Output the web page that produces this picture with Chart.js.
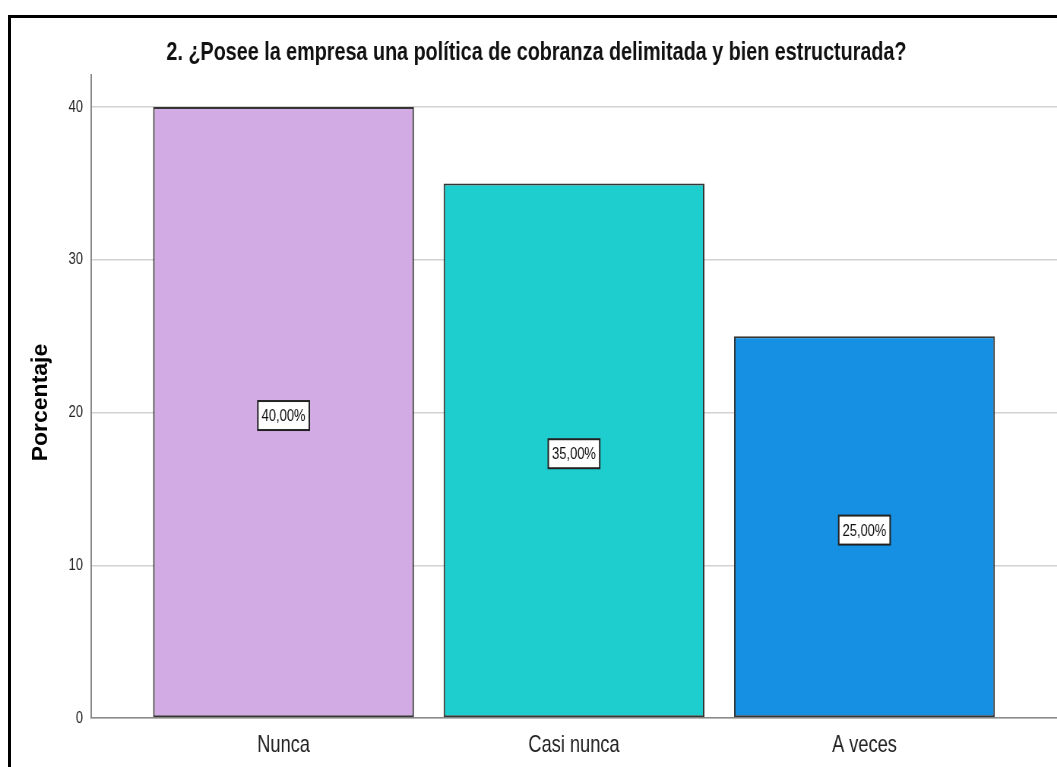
<!DOCTYPE html>
<html lang="es">
<head>
<meta charset="utf-8">
<title>Política de cobranza</title>
<script src="https://cdn.jsdelivr.net/npm/chart.js@4.4.1/dist/chart.umd.min.js"></script>
<style>
  html, body { margin: 0; padding: 0; background: #ffffff; }
  #wrap { position: relative; width: 1057px; height: 767px; overflow: hidden; background: #fff; }
  /* The chart is laid out on a wider canvas and squeezed horizontally,
     which gives the condensed look of the original lettering. */
  #stage {
    position: absolute; left: 0; top: 0; width: 1391px; height: 767px;
    transform-origin: 0 0;
  }
  #frame {
    position: absolute; left: 8px; top: 15px; width: 1100px; height: 800px;
    border-left: 3px solid #000; border-top: 3px solid #000; pointer-events: none;
  }
</style>
</head>
<body>
<div id="wrap">
  <div id="stage"><canvas id="chart" width="1391" height="767"></canvas></div>
  <div id="frame"></div>
</div>
<script>
// Survey answers for question 2 (percent of respondents)
const categories = ['Nunca', 'Casi nunca', 'A veces'];
const percentages = [40, 35, 25];
const barColors = ['#D2AAE4', '#1ECDCD', '#1590E2'];
const yTickValues = [0, 10, 20, 30, 40];
const chartTitle = '2. ¿Posee la empresa una política de cobranza delimitada y bien estructurada?';
const yAxisTitle = 'Porcentaje';

const FONT = "'Liberation Sans', Arial, sans-serif";
const SQUEEZE = 1057 / 1391;
document.getElementById('stage').style.transform = 'scaleX(' + SQUEEZE + ')';

const fmtPct = v => v.toFixed(2).replace('.', ',') + '%';

// Boxed percentage label in the middle of each bar
const valueBoxes = {
  id: 'valueBoxes',
  afterDatasetsDraw(chart) {
    const ctx = chart.ctx;
    const yScale = chart.scales.y;
    const meta = chart.getDatasetMeta(0);
    ctx.save();
    ctx.font = '17px ' + FONT;
    ctx.textAlign = 'center';
    ctx.textBaseline = 'middle';
    meta.data.forEach((bar, i) => {
      const v = percentages[i];
      const text = fmtPct(v);
      const cx = bar.x;
      const cy = yScale.getPixelForValue(v / 2) + 3;
      const w = ctx.measureText(text).width + 10;
      const h = 29;
      ctx.fillStyle = '#ffffff';
      ctx.fillRect(cx - w / 2, cy - h / 2, w, h);
      ctx.lineWidth = 2;
      ctx.strokeStyle = '#222222';
      ctx.strokeRect(cx - w / 2, cy - h / 2, w, h);
      ctx.fillStyle = '#111111';
      ctx.fillText(text, cx, cy + 1);
    });
    ctx.restore();
  }
};

// Vertical axis title, drawn at normal width (counteracting the squeeze)
const yTitle = {
  id: 'yTitle',
  afterDraw(chart) {
    const ctx = chart.ctx;
    const area = chart.chartArea;
    ctx.save();
    ctx.translate(41 / SQUEEZE, (area.top + area.bottom) / 2 + 6);
    ctx.scale(1 / SQUEEZE, 1);
    ctx.rotate(-Math.PI / 2);
    ctx.font = 'bold 23px ' + FONT;
    ctx.fillStyle = '#000000';
    ctx.textAlign = 'center';
    ctx.textBaseline = 'middle';
    ctx.fillText(yAxisTitle, 0, 0);
    ctx.restore();
  }
};

new Chart(document.getElementById('chart'), {
  type: 'bar',
  data: {
    datasets: [{
      data: categories.map((c, i) => ({ x: i, y: percentages[i] })),
      backgroundColor: barColors,
      borderColor: '#353535',
      borderWidth: 2,
      borderSkipped: false,
      categoryPercentage: 1.0,
      barPercentage: 0.898
    }]
  },
  options: {
    responsive: false,
    animation: false,
    devicePixelRatio: 1,
    layout: { padding: { left: 21, right: 0, top: 0, bottom: 0 } },
    plugins: {
      legend: { display: false },
      tooltip: { enabled: false },
      title: {
        display: true,
        text: chartTitle,
        color: '#111111',
        font: { family: FONT, size: 26, weight: 'bold', lineHeight: 1.2 },
        padding: { top: 37.4, bottom: 6.4 }
      }
    },
    scales: {
      x: {
        type: 'linear',
        min: -0.663,
        max: 2.663,
        offset: false,
        afterBuildTicks: s => { s.ticks = categories.map((c, i) => ({ value: i })); },
        afterFit: s => { s.height = 49; },
        grid: { display: false, drawTicks: false },
        border: { display: true, color: '#8a8a8a', width: 1.5 },
        ticks: {
          padding: 13,
          autoSkip: false,
          maxRotation: 0,
          color: '#222222',
          font: { family: FONT, size: 24 },
          callback: v => categories[v]
        }
      },
      y: {
        min: 0,
        max: 42.1,
        afterBuildTicks: s => { s.ticks = yTickValues.map(v => ({ value: v })); },
        afterFit: s => { s.width = 98.75; },
        grid: { color: '#d2d2d2', lineWidth: 1.5, drawTicks: false },
        border: { display: true, color: '#8a8a8a', width: 2 },
        ticks: {
          padding: 10.5,
          color: '#222222',
          font: { family: FONT, size: 17 }
        },
        title: { display: false }
      }
    }
  },
  plugins: [valueBoxes, yTitle]
});
</script>
</body>
</html>
